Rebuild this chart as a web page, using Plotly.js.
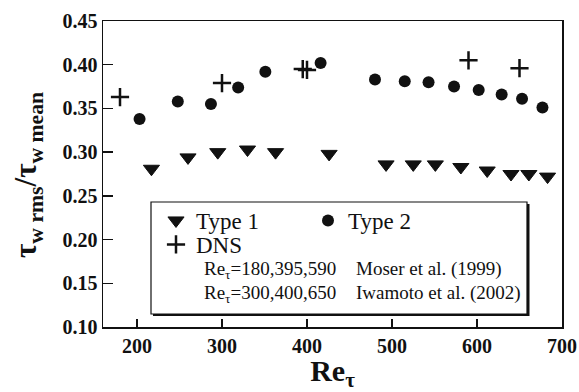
<!DOCTYPE html>
<html>
<head>
<meta charset="utf-8">
<script src="https://cdn.plot.ly/plotly-3.0.1.min.js"></script>
<style>html,body{margin:0;padding:0;background:#fff;}#chart{width:579px;height:392px;}</style>
</head>
<body>
<div id="chart"></div>
<script>
// Data
var type1X = [217, 260, 295, 330, 363, 426, 493, 525, 551, 581, 612, 640, 661, 683];
var type1Y = [0.281, 0.294, 0.300, 0.303, 0.300, 0.298, 0.286, 0.286, 0.286, 0.283, 0.279, 0.275, 0.275, 0.272];
var type2X = [203, 248, 287, 319, 351, 416, 480, 515, 543, 573, 602, 629, 653, 677];
var type2Y = [0.338, 0.358, 0.355, 0.374, 0.392, 0.402, 0.383, 0.381, 0.380, 0.375, 0.371, 0.366, 0.361, 0.351];
var dnsX = [180, 300, 395, 400, 590, 650];
var dnsY = [0.363, 0.379, 0.395, 0.394, 0.405, 0.396];
var xTicks = [200, 300, 400, 500, 600, 700];
var yTicks = [0.10, 0.15, 0.20, 0.25, 0.30, 0.35, 0.40, 0.45];

var ink = '#111';
var serif = 'Liberation Serif';

var traces = [
  {x: type1X, y: type1Y, mode: 'markers', type: 'scatter', name: 'Type 1', legend: 'legend',
   marker: {symbol: 'triangle-down', size: 14, color: ink, line: {color: ink, width: 1}}},
  {x: type2X, y: type2Y, mode: 'markers', type: 'scatter', name: 'Type 2', legend: 'legend2',
   marker: {symbol: 'circle', size: 12, color: ink, line: {width: 0}}},
  {x: dnsX, y: dnsY, mode: 'markers', type: 'scatter', name: 'DNS', legend: 'legend3',
   marker: {symbol: 'cross-thin', size: 13, color: ink, line: {color: ink, width: 2.5}}}
];

function px2x(p) { return (p - 103) / 459; }
function px2y(p) { return (327 - p) / 306; }

var legFont = {family: serif, size: 23, color: ink};
function leg(x, y) {
  return {x: x, y: y, xanchor: 'left', yanchor: 'top', bgcolor: 'rgba(0,0,0,0)',
          borderwidth: 0, font: legFont, itemwidth: 30};
}

var layout = {
  width: 579, height: 392,
  margin: {l: 103, r: 17, t: 21, b: 65},
  paper_bgcolor: '#fff', plot_bgcolor: '#fff',
  font: {family: serif, color: ink},
  showlegend: true,
  legend: leg(px2x(156), px2y(199)),
  legend2: leg(px2x(308), px2y(199)),
  legend3: leg(px2x(156), px2y(223)),
  xaxis: {
    range: [160, 700], tickvals: xTicks, ticktext: xTicks.map(String),
    ticks: 'inside', ticklen: 8, tickwidth: 1.5, tickcolor: ink,
    showline: true, linewidth: 1.5, linecolor: ink, mirror: true,
    showgrid: false, zeroline: false,
    tickfont: {family: serif, size: 20, color: ink, weight: 'bold'},
    title: {text: 'Re<sub>τ</sub>', font: {family: serif, size: 30, color: ink, weight: 'bold'}, standoff: 3}
  },
  yaxis: {
    range: [0.10, 0.45], tickvals: yTicks, ticktext: yTicks.map(function(v){return v.toFixed(2);}),
    ticks: 'inside', ticklen: 10, tickwidth: 1.5, tickcolor: ink,
    showline: true, linewidth: 1.5, linecolor: ink, mirror: true,
    showgrid: false, zeroline: false,
    tickfont: {family: serif, size: 20, color: ink, weight: 'bold'}
  },
  shapes: [
    {type: 'rect', xref: 'paper', yref: 'paper', layer: 'above',
     x0: px2x(153), x1: px2x(529.5), y0: px2y(316), y1: px2y(204),
     fillcolor: ink, line: {width: 0}},
    {type: 'rect', xref: 'paper', yref: 'paper', layer: 'above',
     x0: px2x(151), x1: px2x(527), y0: px2y(314), y1: px2y(202),
     fillcolor: '#fff', line: {color: ink, width: 1.2}}
  ],
  annotations: [
    {xref: 'paper', yref: 'paper', x: px2x(28), y: px2y(175), xanchor: 'center', yanchor: 'middle',
     textangle: -90, text: 'τ<sub>w rms</sub>/τ<sub>w mean</sub>', showarrow: false,
     font: {family: serif, size: 31, color: ink, weight: 'bold'}},
    {xref: 'paper', yref: 'paper', x: px2x(202), y: px2y(270), xanchor: 'left', yanchor: 'middle',
     text: 'Re<sub>τ</sub>=180,395,590', showarrow: false, font: {family: serif, size: 19, color: ink}},
    {xref: 'paper', yref: 'paper', x: px2x(354), y: px2y(269), xanchor: 'left', yanchor: 'middle',
     text: 'Moser et al. (1999)', showarrow: false, font: {family: serif, size: 19, color: ink}},
    {xref: 'paper', yref: 'paper', x: px2x(202), y: px2y(294), xanchor: 'left', yanchor: 'middle',
     text: 'Re<sub>τ</sub>=300,400,650', showarrow: false, font: {family: serif, size: 19, color: ink}},
    {xref: 'paper', yref: 'paper', x: px2x(354), y: px2y(293), xanchor: 'left', yanchor: 'middle',
     text: 'Iwamoto et al. (2002)', showarrow: false, font: {family: serif, size: 19, color: ink}}
  ]
};

Plotly.newPlot('chart', traces, layout, {displayModeBar: false, staticPlot: true});
</script>
</body>
</html>
